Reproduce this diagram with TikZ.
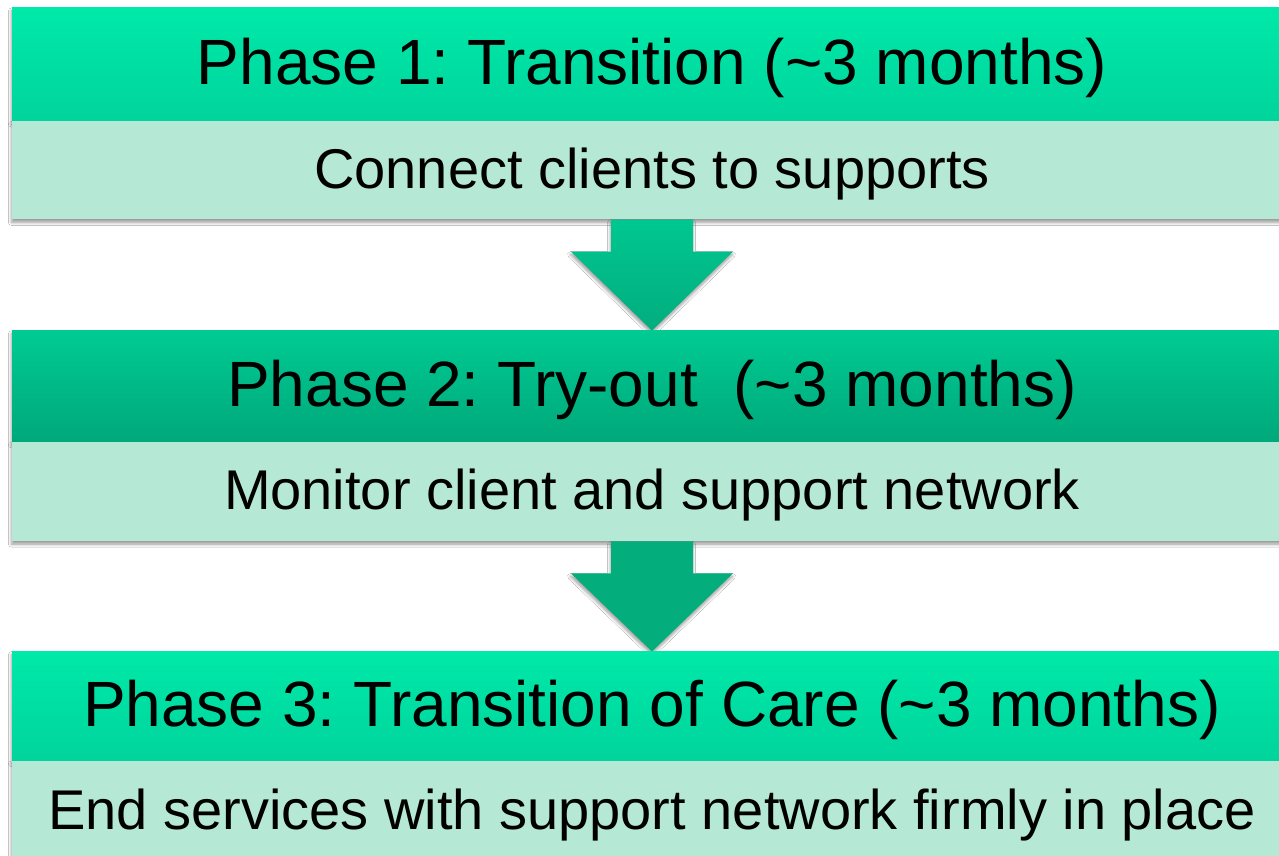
\documentclass[tikz,border=0pt]{standalone}
\usepackage{fontspec}
\setmainfont{Liberation Sans}
\usetikzlibrary{shadows.blur,calc}
\definecolor{hdtop}{HTML}{00E9A9}
\definecolor{hdbot}{HTML}{00D49C}
\definecolor{hdtwotop}{HTML}{00CB92}
\definecolor{hdtwobot}{HTML}{00A87A}
\definecolor{subfill}{HTML}{B5E8D5}
\definecolor{arrtop}{HTML}{00C790}
\definecolor{arrbot}{HTML}{02AD7E}
\definecolor{arrtwo}{HTML}{03AD7C}
\tikzset{
  boxshadow/.style={blur shadow={shadow xshift=-0.5pt,shadow yshift=-3pt,shadow blur radius=3pt,shadow blur steps=6,shadow opacity=40}},
  hdr/.style={rectangle,inner sep=0pt,minimum width=1280pt,minimum height=113pt,text height=50pt,text depth=9pt,top color=hdtop,bottom color=hdbot,boxshadow,font=\fontsize{64}{70}\selectfont},
  subbox/.style={rectangle,inner sep=0pt,minimum width=1280pt,minimum height=98pt,text height=44pt,text depth=8pt,fill=subfill,boxshadow,font=\fontsize{56}{60}\selectfont},
  arrowshape/.style={draw=none,boxshadow}
}
\begin{document}
\frenchspacing
\begin{tikzpicture}[x=1pt,y=-1pt]
\useasboundingbox (0,0) rectangle (1279,856);
\fill[white] (0,0) rectangle (1279,856);
% Phase 1
\node[hdr] (h1) at (652,64.5) {Phase 1: Transition (\textasciitilde 3 months)};
\node[subbox,anchor=north] (s1) at (h1.south) {Connect clients to supports};
% arrow 1
\path[arrowshape,top color=arrtop,bottom color=arrbot]
  ($(s1.south)+(-41,0)$) -- ($(s1.south)+(41,0)$) -- ($(s1.south)+(41,32)$) -- ($(s1.south)+(81,32)$)
  -- ($(s1.south)+(0,111)$) coordinate (t1) -- ($(s1.south)+(-81,32)$) -- ($(s1.south)+(-41,32)$) -- cycle;
% Phase 2
\node[hdr,top color=hdtwotop,bottom color=hdtwobot,minimum height=111pt,anchor=north] (h2) at (t1) {Phase 2: Try-out\ \ (\textasciitilde 3 months)};
\node[subbox,anchor=north,minimum height=99pt] (s2) at (h2.south) {Monitor client and support network};
% arrow 2
\path[arrowshape,fill=arrtwo]
  ($(s2.south)+(-41,0)$) -- ($(s2.south)+(41,0)$) -- ($(s2.south)+(41,32)$) -- ($(s2.south)+(81,32)$)
  -- ($(s2.south)+(0,110)$) coordinate (t2) -- ($(s2.south)+(-81,32)$) -- ($(s2.south)+(-41,32)$) -- cycle;
% Phase 3
\node[hdr,minimum height=109pt,anchor=north] (h3) at (t2) {Phase 3: Transition of Care (\textasciitilde 3 months)};
\node[subbox,anchor=north,minimum height=100pt] (s3) at (h3.south) {End services with support network firmly in place};
\end{tikzpicture}
\end{document}
